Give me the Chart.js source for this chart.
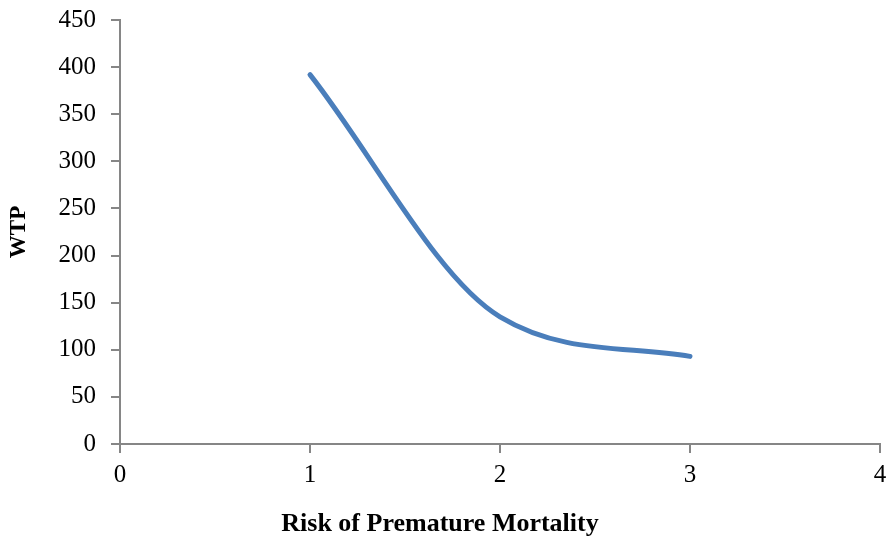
<!DOCTYPE html>
<html>
<head>
<meta charset="utf-8">
<script src="https://cdn.jsdelivr.net/npm/chart.js@4/dist/chart.umd.min.js"></script>
<style>
html,body{margin:0;padding:0;background:#fff;}
#wrap{width:888px;height:537px;position:relative;}
</style>
</head>
<body>
<div id="wrap"><canvas id="c" width="888" height="537"></canvas></div>
<script>
const riskValues = [1, 2, 3];
const wtpValues = [392, 135, 93];
const xTicks = [0, 1, 2, 3, 4];
const yTicks = [0, 50, 100, 150, 200, 250, 300, 350, 400, 450];

const points = riskValues.map((x, i) => ({x: x, y: wtpValues[i]}));
const axisGray = '#868686';
const family = "'Liberation Serif', 'Times New Roman', serif";
const tickFont = {family: family, size: 25};

new Chart(document.getElementById('c'), {
  type: 'line',
  data: {
    datasets: [{
      data: points,
      borderColor: '#4A7EBB',
      borderWidth: 5,
      borderCapStyle: 'round',
      borderJoinStyle: 'round',
      pointRadius: 0,
      cubicInterpolationMode: 'monotone',
      fill: false
    }]
  },
  options: {
    responsive: false,
    animation: false,
    layout: {padding: {left: 0, top: 20, right: 8, bottom: 0}},
    plugins: {
      legend: {display: false},
      tooltip: {enabled: false},
      title: {display: true, position: 'bottom', text: 'Risk of Premature Mortality', color: '#000',
              font: {family: family, size: 26, weight: 'bold', lineHeight: 1}, padding: {top: 0, bottom: 0}}
    },
    scales: {
      x: {
        type: 'linear',
        min: 0, max: 4,
        afterBuildTicks: s => { s.ticks = xTicks.map(v => ({value: v})); },
        afterFit: s => { s.height = 67; s.paddingRight = 0; s.paddingLeft = 0; },
        border: {color: axisGray, width: 2},
        grid: {drawOnChartArea: false, drawTicks: true, tickLength: 9, color: axisGray, lineWidth: 2},
        ticks: {color: '#000', font: tickFont, padding: 7, maxRotation: 0}
      },
      y: {
        type: 'linear',
        min: 0, max: 450,
        afterBuildTicks: s => { s.ticks = yTicks.map(v => ({value: v})); },
        afterFit: s => { s.width = 120; s.paddingTop = 0; s.paddingBottom = 0; },
        border: {color: axisGray, width: 2},
        grid: {drawOnChartArea: false, drawTicks: true, tickLength: 9, color: axisGray, lineWidth: 2},
        ticks: {color: '#000', font: tickFont, padding: 15},
        title: {display: true, text: 'WTP', color: '#000',
                font: {family: family, size: 23, weight: 'bold'}, padding: {top: 5, bottom: 0}}
      }
    }
  }
});
</script>
</body>
</html>
